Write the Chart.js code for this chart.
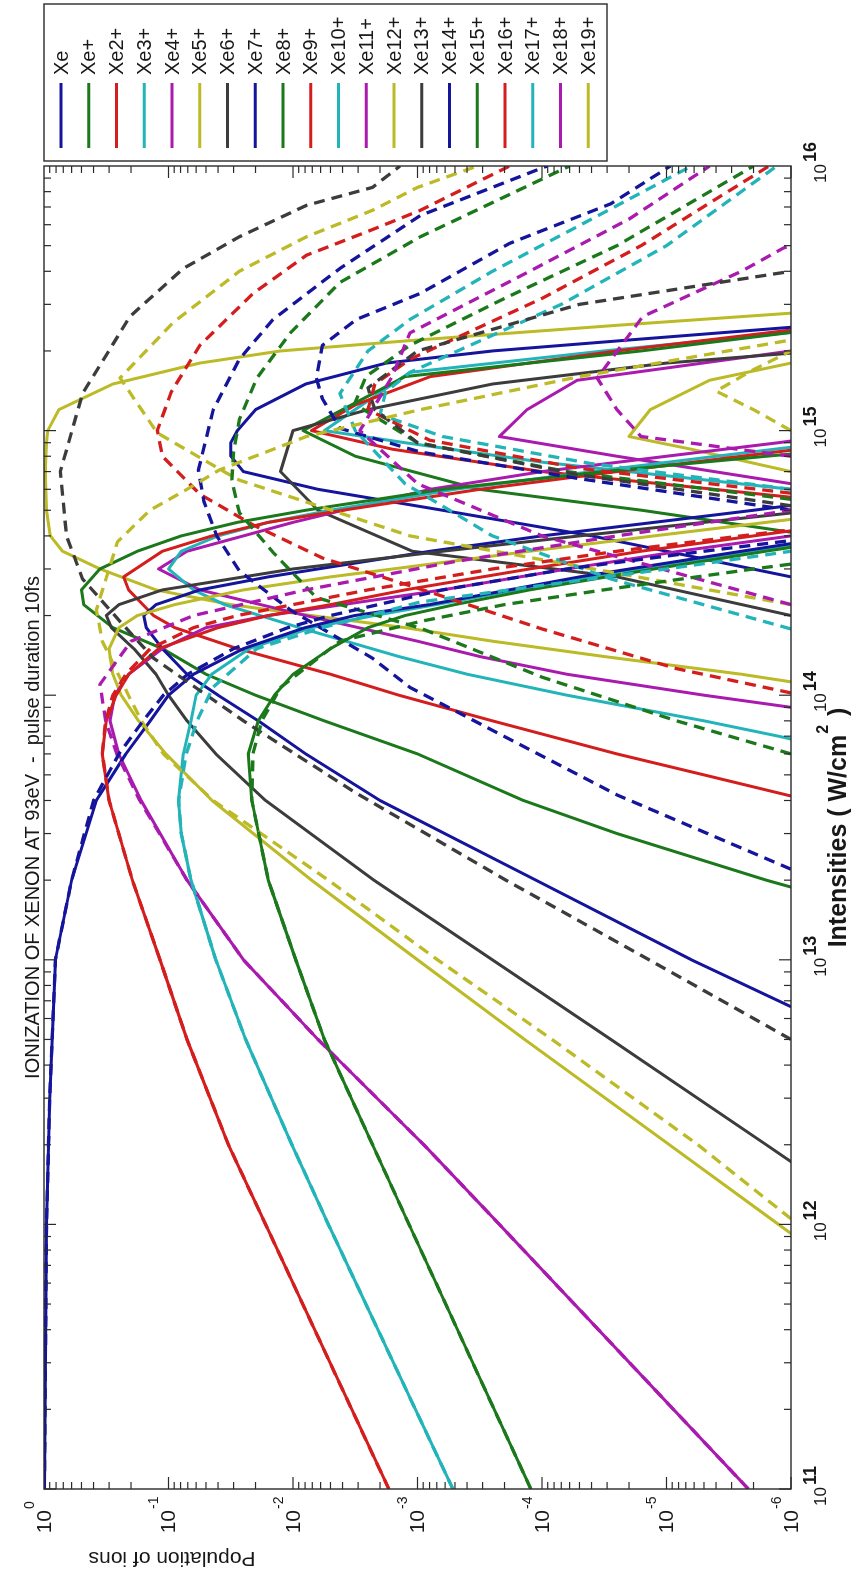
<!DOCTYPE html>
<html>
<head>
<meta charset="utf-8">
<script src="https://cdn.jsdelivr.net/npm/chart.js@4.4.1/dist/chart.umd.min.js"></script>
<style>
  html, body { margin: 0; padding: 0; background: #ffffff; overflow: hidden; }
  body { width: 866px; height: 1576px; position: relative; }
  /* the figure is laid out landscape and turned a quarter turn counter-clockwise */
  #frame {
    position: absolute; left: 0; top: 0;
    width: 1576px; height: 866px;
    transform-origin: 0 0;
    transform: translateY(1576px) rotate(-90deg);
  }
  canvas { display: block; }
</style>
</head>
<body>
<div id="frame"><canvas id="chart" width="1576" height="866"></canvas></div>
<script>
// Ion labels (legend order)
const ions = ['Xe','Xe+','Xe2+','Xe3+','Xe4+','Xe5+','Xe6+','Xe7+','Xe8+','Xe9+',
              'Xe10+','Xe11+','Xe12+','Xe13+','Xe14+','Xe15+','Xe16+','Xe17+','Xe18+','Xe19+'];

// Axis decades used for tick labels
const intensityDecades = [11, 12, 13, 14, 15, 16];
const populationDecades = [0, -1, -2, -3, -4, -5, -6];

// ---- Model A (solid lines): [intensity W/cm^2, population] ----
const xe_a   = [[1e11,0.993],[1e12,0.955],[3e12,0.9],[1e13,0.81],[2e13,0.6],[4e13,0.38],[6e13,0.22],[8e13,0.14],[1e14,0.1],[1.2e14,0.063],[1.5e14,0.025],[1.8e14,8e-3],[2e14,3.2e-3],[2.2e14,8e-4],[2.8e14,5e-5],[3.5e14,2.5e-6],[4e14,4e-7]];
const xe1_a  = [[1e11,1.23e-4],[1e12,1.17e-3],[5e12,5.6e-3],[1e13,9.5e-3],[2e13,0.0158],[4e13,0.0214],[6e13,0.0229],[8e13,0.019],[1e14,0.0141],[1.2e14,0.01],[1.5e14,5e-3],[1.8e14,2.5e-3],[2e14,1.26e-3],[2.2e14,5e-4],[2.5e14,1.26e-4],[3e14,1.26e-5],[3.5e14,1.6e-6],[4e14,2.5e-7]];
const xe2_a  = [[1e11,1.7e-3],[1e12,0.0166],[2e12,0.033],[5e12,0.071],[1e13,0.117],[2e13,0.195],[4e13,0.3],[6e13,0.34],[8e13,0.316],[1e14,0.263],[1.2e14,0.209],[1.5e14,0.12],[1.8e14,0.04],[2e14,0.0158],[2.2e14,5e-3],[2.5e14,1.26e-3],[3e14,1.26e-4],[3.5e14,1.6e-5],[4e14,2e-6],[4.5e14,3.2e-7]];
const xe3_a  = [[1e11,5.2e-4],[1e12,5.2e-3],[2e12,0.0102],[5e12,0.024],[1e13,0.0417],[2e13,0.066],[3e13,0.079],[4e13,0.083],[6e13,0.076],[8e13,0.066],[1e14,0.06],[1.2e14,0.045],[1.5e14,0.0224],[1.8e14,7.1e-3],[2e14,2.24e-3],[2.2e14,7.1e-4],[2.5e14,1.58e-4],[3e14,1.58e-5],[3.5e14,2e-6],[4e14,3.2e-7]];
const xe4_a  = [[1e11,2.2e-6],[1e12,2.2e-4],[2e12,8.9e-4],[5e12,6.3e-3],[1e13,0.025],[2e13,0.071],[4e13,0.166],[6e13,0.251],[8e13,0.295],[1e14,0.27],[1.2e14,0.209],[1.5e14,0.112],[1.8e14,0.05],[2e14,0.0158],[2.2e14,3.98e-3],[2.5e14,6.3e-4],[3e14,6.3e-5],[3.5e14,7.9e-6],[4e14,1e-6],[4.5e14,2e-7]];
const xe5_a  = [[8e11,6.6e-7],[1e12,1.26e-6],[2e12,9.5e-6],[5e12,1.38e-4],[1e13,1e-3],[2e13,7.1e-3],[4e13,0.0447],[6e13,0.105],[8e13,0.174],[1e14,0.24],[1.2e14,0.28],[1.5e14,0.3],[1.8e14,0.25],[2e14,0.178],[2.2e14,0.089],[2.5e14,0.025],[2.8e14,5e-3],[3e14,1.58e-3],[3.5e14,1.26e-4],[4e14,1.26e-5],[4.5e14,1.58e-6],[5e14,2.5e-7]];
const xe6_a  = [[1.6e12,7.9e-7],[2e12,1.58e-6],[5e12,2.8e-5],[1e13,2.5e-4],[2e13,2.24e-3],[4e13,0.0166],[6e13,0.0417],[8e13,0.071],[1e14,0.1],[1.2e14,0.126],[1.5e14,0.19],[1.8e14,0.288],[2e14,0.316],[2.2e14,0.25],[2.5e14,0.112],[2.8e14,0.025],[3e14,0.01],[3.5e14,6.3e-4],[4e14,5e-5],[4.5e14,5e-6],[5e14,6.3e-7]];
const xe7_a  = [[6e12,6.3e-7],[1e13,6.3e-6],[2e13,1.12e-4],[4e13,2e-3],[6e13,7.9e-3],[8e13,0.019],[1e14,0.04],[1.2e14,0.071],[1.5e14,0.112],[1.8e14,0.151],[2e14,0.158],[2.2e14,0.126],[2.5e14,0.056],[2.8e14,0.0158],[3e14,6.3e-3],[3.5e14,7.9e-4],[4e14,1e-4],[4.5e14,1.26e-5],[5e14,2e-6],[6e14,1e-7]];
const xe8_a  = [[1.8e13,7.1e-7],[2e13,1.58e-6],[3e13,2.5e-5],[4e13,1.41e-4],[6e13,1e-3],[8e13,5.6e-3],[1e14,0.02],[1.2e14,0.05],[1.5e14,0.112],[1.8e14,0.28],[2.2e14,0.48],[2.5e14,0.5],[3e14,0.355],[3.5e14,0.178],[4e14,0.079],[4.5e14,0.028],[5e14,7.9e-3],[6e14,6.3e-4],[7e14,3.2e-5],[8e14,1.58e-6],[9e14,1e-7]];
const xe9_a  = [[4e13,7.1e-7],[5e13,5e-6],[6e13,2.5e-5],[8e13,2.5e-4],[1e14,1.41e-3],[1.2e14,5e-3],[1.5e14,0.028],[1.8e14,0.089],[2e14,0.132],[2.5e14,0.209],[2.8e14,0.229],[3.5e14,0.112],[4e14,0.0447],[4.5e14,0.0158],[5e14,3.98e-3],[6e14,3.16e-4],[7e14,2.5e-5],[8e14,2.5e-6],[9e14,3.2e-7]];
const xe10_a = [[6.5e13,6.3e-7],[7e13,1.26e-6],[8e13,5e-6],[1e14,6.3e-5],[1.2e14,3.98e-4],[1.4e14,1.41e-3],[1.8e14,8.9e-3],[2.2e14,0.0355],[2.5e14,0.063],[3e14,0.1],[3.5e14,0.079],[4e14,0.04],[4.5e14,0.0158],[5e14,5e-3],[6e14,5e-4],[7e14,3.98e-5],[8e14,3.98e-6],[9e14,5e-7]];
const xe11_a = [[8.5e13,4.3e-7],[9e13,1e-6],[1e14,5e-6],[1.2e14,6.3e-5],[1.4e14,3.16e-4],[1.6e14,1e-3],[2e14,7.9e-3],[2.5e14,0.056],[3e14,0.12],[3.5e14,0.071],[4e14,0.025],[4.5e14,0.01],[5e14,3.98e-3],[6e14,7.9e-4],[7e14,1e-4],[8e14,1e-5],[9e14,1.26e-6],[1e15,2.5e-7]];
const xe12_a = [[1e14,2e-7],[1.2e14,2.5e-6],[1.4e14,3.16e-5],[1.6e14,2.5e-4],[1.8e14,1.26e-3],[2e14,7.1e-3],[2.2e14,0.0316],[2.5e14,0.126],[3e14,0.355],[3.5e14,0.71],[4e14,0.89],[5e14,0.955],[7e14,0.977],[9e14,0.955],[1e15,0.933],[1.2e15,0.76],[1.5e15,0.28],[1.8e15,0.056],[2e15,0.0126],[2.2e15,1e-3],[2.5e15,2.5e-5],[2.8e15,7.9e-7]];
const xe13_a = [[2e14,1e-6],[2.8e14,2.5e-5],[3.5e14,1.1e-3],[5e14,6.3e-3],[7e14,0.0126],[1e15,0.01],[1.2e15,2.5e-3],[1.5e15,2.5e-4],[1.8e15,1e-5],[2e15,6e-7]];
const xe14_a = [[2.8e14,1e-6],[3.5e14,1e-5],[4e14,3.98e-5],[5e14,6.3e-4],[6e14,6.3e-3],[7e14,0.025],[8e14,0.0316],[9e14,0.0316],[1e15,0.028],[1.2e15,0.02],[1.5e15,7.9e-3],[1.8e15,1.78e-3],[2e15,2.5e-4],[2.2e15,2e-5],[2.5e15,6.3e-7]];
const xe15_a = [[4e14,6.3e-7],[5e14,1.58e-5],[6e14,3.2e-4],[8e14,3.16e-3],[1e15,8.3e-3],[1.2e15,4e-3],[1.6e15,1.26e-3],[2e15,1.6e-5],[2.35e15,1e-6],[2.5e15,2e-7]];
const xe16_a = [[5.6e14,1e-6],[7e14,1e-4],[8.5e14,1.58e-3],[1e15,7.1e-3],[1.25e15,3.16e-3],[1.6e15,7.9e-4],[2e15,2.5e-5],[2.4e15,1e-6],[2.6e15,1e-7]];
const xe17_a = [[6e14,1e-6],[7.6e14,1e-4],[9e14,1.26e-3],[1e15,5.6e-3],[1.25e15,2.8e-3],[1.66e15,1.15e-3],[2e15,3.2e-5],[2.35e15,1e-6],[2.6e15,1e-7]];
const xe18_a = [[6.3e14,1e-6],[8e14,2.5e-5],[9.5e14,2.2e-4],[1.2e15,1.32e-4],[1.55e15,5.2e-5],[2e15,1e-6],[2.2e15,1e-7]];
const xe19_a = [[7e14,1e-6],[8.5e14,6.3e-6],[9.5e14,2e-5],[1.2e15,1.35e-5],[1.55e15,4.5e-6],[1.8e15,1e-6],[2e15,1e-7]];

// ---- Model B (dashed lines) ----
const xe_b   = [[1e11,0.993],[1e12,0.955],[3e12,0.9],[1e13,0.81],[2e13,0.6],[4e13,0.4],[6e13,0.25],[8e13,0.16],[1e14,0.11],[1.2e14,0.07],[1.5e14,0.03],[1.8e14,0.011],[2e14,5e-3],[2.5e14,6.3e-4],[3e14,6.3e-5],[3.5e14,5e-6],[4e14,5e-7]];
const xe1_b  = [[1e11,1.23e-4],[1e12,1.17e-3],[5e12,5.6e-3],[1e13,9.5e-3],[2e13,0.0158],[4e13,0.0214],[6e13,0.021],[8e13,0.0178],[1.07e14,0.0126],[1.6e14,4.2e-3],[1.9e14,9.5e-4],[2.2e14,2e-4],[2.5e14,3.2e-5],[3e14,2e-6],[3.5e14,1.6e-7]];
const xe2_b  = [[1e11,1.7e-3],[1e12,0.0166],[2e12,0.033],[5e12,0.071],[1e13,0.117],[2e13,0.195],[4e13,0.3],[6e13,0.34],[8e13,0.32],[1e14,0.28],[1.2e14,0.22],[1.5e14,0.14],[1.8e14,0.063],[2e14,0.028],[2.2e14,0.01],[2.5e14,2.5e-3],[3e14,2.5e-4],[3.5e14,2.5e-5],[4e14,2.5e-6],[4.5e14,3.2e-7]];
const xe3_b  = [[1e11,5.2e-4],[1e12,5.2e-3],[2e12,0.0102],[5e12,0.024],[1e13,0.0417],[2e13,0.066],[3e13,0.079],[4e13,0.083],[6e13,0.072],[8e13,0.059],[1.07e14,0.044],[1.5e14,0.0195],[1.8e14,5.8e-3],[2.25e14,9.5e-4],[2.6e14,1e-4],[3e14,1e-5],[3.5e14,1e-6],[4e14,1e-7]];
const xe4_b  = [[1e11,2.2e-6],[1e12,2.2e-4],[2e12,8.9e-4],[5e12,6.3e-3],[1e13,0.025],[2e13,0.071],[4e13,0.17],[6e13,0.26],[8e13,0.32],[1.1e14,0.355],[1.6e14,0.2],[2e14,0.063],[2.5e14,7.9e-3],[3.2e14,5e-4],[4e14,2.5e-5],[5e14,1e-6],[5.5e14,2e-7]];
const xe5_b  = [[1.05e12,1e-6],[2e12,5.6e-6],[5e12,8.3e-5],[1e13,6.9e-4],[2e13,5.2e-3],[4e13,0.0437],[6e13,0.11],[8e13,0.165],[1e14,0.21],[1.6e14,0.34],[2.1e14,0.38],[3.8e14,0.257],[5e14,0.141],[6e14,0.071],[7.1e14,0.039],[9.5e14,7.8e-3],[1.2e15,9.5e-4],[1.6e15,5e-5],[2.2e15,1e-6],[2.5e15,1e-7]];
const xe6_b  = [[5e12,1e-6],[1e13,1.38e-5],[2e13,1.95e-4],[4.3e13,3.2e-3],[8e13,0.025],[1.38e14,0.132],[1.9e14,0.245],[2.75e14,0.49],[4e14,0.66],[7e14,0.74],[1.38e15,0.49],[2.7e15,0.204],[4.1e15,0.076],[5.4e15,0.027],[7.1e15,7.8e-3],[8.3e15,2.3e-3],[1e16,1.38e-3]];
const xe7_b  = [[2.2e13,1e-6],[4.2e13,2.5e-5],[1.07e14,1.15e-3],[1.38e14,2.3e-3],[2.1e14,0.0105],[2.95e14,0.027],[4e14,0.041],[5.4e14,0.052],[7.1e14,0.0575],[1.2e15,0.0437],[1.86e15,0.027],[2.63e15,0.0145],[4.1e15,4.2e-3],[6.5e15,9.5e-4],[1e16,9.1e-5]];
const xe8_b  = [[6e13,1e-6],[8e13,8.3e-6],[1.17e14,1e-4],[1.78e14,9.1e-4],[2.34e14,6.5e-3],[3.47e14,0.0145],[4.9e14,0.027],[6.5e14,0.031],[8.3e14,0.03],[1.1e15,0.027],[1.58e15,0.0195],[2.34e15,0.0105],[3.63e15,4.2e-3],[5.4e15,9.5e-4],[1e16,6e-5]];
const xe9_b  = [[1.02e14,1e-6],[1.26e14,8.3e-6],[1.78e14,1e-4],[2.45e14,7.9e-4],[3.3e14,5.8e-3],[4.4e14,0.0209],[5.75e14,0.056],[8e14,0.112],[1e15,0.123],[1.4e15,0.095],[2.1e15,0.056],[3.3e15,0.0209],[4.6e15,7.8e-3],[5.75e15,2.3e-3],[6.8e15,9.5e-4],[1e16,1.82e-4]];
const xe10_b = [[1.78e14,1e-6],[2.75e14,2.8e-5],[4e14,2.5e-4],[6.3e14,1.26e-3],[1e15,3.16e-3],[1.38e15,4.2e-3],[2e15,2.5e-3],[2.63e15,1.15e-3],[4e15,2.5e-4],[6.3e15,4e-5],[1e16,6.3e-6]];
const xe11_b = [[2.2e14,1e-6],[4e14,1e-4],[6.3e14,1e-3],[1e15,2.9e-3],[1.6e15,1.6e-3],[2.34e15,1.15e-3],[4e15,1.26e-4],[6.3e15,2e-5],[1e16,4.5e-6]];
const xe12_b = [[2.2e14,1e-6],[4e14,1.15e-3],[6.5e14,0.027],[6.9e14,0.034],[9.8e14,0.123],[1.58e15,0.245],[2.57e15,0.091],[4e15,0.027],[5.4e15,7.8e-3],[6.8e15,2.3e-3],[8.3e15,1e-3],[1e16,3.3e-4]];
const xe13_b = [[5.2e14,1e-6],[6.8e14,5e-5],[9e14,1e-3],[1.2e15,2.2e-3],[1.45e15,2.5e-3],[2e15,1e-3],[3e15,5e-5],[4e15,1e-6],[4.5e15,1e-7]];
const xe14_b = [[5e14,1e-6],[6.6e14,5.2e-5],[8.3e14,9.5e-4],[1.02e15,4.2e-3],[1.32e15,5.8e-3],[1.58e15,6.5e-3],[2.1e15,5.8e-3],[2.63e15,3.1e-3],[3.3e15,9.5e-4],[5.1e15,1.82e-4],[7.2e15,2.8e-5],[1e16,9.3e-6]];
const xe15_b = [[5.5e14,1e-6],[7e14,6.3e-5],[9e14,1e-3],[1.26e15,3.2e-3],[1.6e15,2.6e-3],[2.1e15,1.15e-3],[3.16e15,2e-4],[5e15,2.5e-5],[1e16,2e-6]];
const xe16_b = [[5.8e14,1e-6],[7.2e14,5e-5],[9.2e14,8e-4],[1.2e15,2.5e-3],[1.5e15,2.2e-3],[1.86e15,1.15e-3],[3.16e15,1e-4],[5e15,1.6e-5],[1e16,1.5e-6]];
const xe17_b = [[6e14,1e-6],[7.5e14,4e-5],[9.5e14,6.3e-4],[1.15e15,2e-3],[1.4e15,1.8e-3],[1.66e15,1.15e-3],[3e15,7e-5],[5e15,1e-5],[1e16,1.3e-6]];
const xe18_b = [[8e14,1e-6],[9.5e14,1.6e-5],[1.2e15,2.5e-5],[1.58e15,3.6e-5],[2.7e15,1.55e-5],[4e15,2.5e-6],[4.9e15,1.15e-6],[5.5e15,5e-7]];
const xe19_b = [[1e15,1e-6],[1.2e15,2e-6],[1.41e15,4e-6],[1.7e15,2e-6],[2e15,1e-6],[2.2e15,2e-7]];

const modelA = [xe_a,xe1_a,xe2_a,xe3_a,xe4_a,xe5_a,xe6_a,xe7_a,xe8_a,xe9_a,xe10_a,xe11_a,xe12_a,xe13_a,xe14_a,xe15_a,xe16_a,xe17_a,xe18_a,xe19_a];
const modelB = [xe_b,xe1_b,xe2_b,xe3_b,xe4_b,xe5_b,xe6_b,xe7_b,xe8_b,xe9_b,xe10_b,xe11_b,xe12_b,xe13_b,xe14_b,xe15_b,xe16_b,xe17_b,xe18_b,xe19_b];

// seven-colour line cycle
const palette = ['#14149c', '#1b781b', '#d41e1e', '#22b4b8', '#aa1aae', '#bcba26', '#3c3c3c'];
const colorOf = i => palette[i % palette.length];

const FONT = "'Liberation Sans', Arial, Helvetica, sans-serif";
const INK = '#181818';

function toPoints(rows) { return rows.map(([x, y]) => ({ x, y })); }

const datasets = [];
modelA.forEach((rows, i) => datasets.push({
  label: ions[i], data: toPoints(rows), borderColor: colorOf(i), borderWidth: 3,
  pointRadius: 0, fill: false, tension: 0, clip: 0, borderJoinStyle: 'round', order: 2
}));
modelB.forEach((rows, i) => datasets.push({
  label: ions[i] + ' (b)', data: toPoints(rows), borderColor: colorOf(i), borderWidth: 3.3,
  borderDash: [11, 7], pointRadius: 0, fill: false, tension: 0, clip: 0, borderJoinStyle: 'round', order: 1
}));

function seg(ctx, x1, y1, x2, y2) { ctx.beginPath(); ctx.moveTo(x1, y1); ctx.lineTo(x2, y2); ctx.stroke(); }

// Axes box, inward log ticks, power-of-ten labels, titles and legend box
const figureDecor = {
  id: 'figureDecor',
  afterDatasetsDraw(chart) {
    const { ctx, chartArea: a } = chart;
    const xs = chart.scales.x, ys = chart.scales.y;
    ctx.save();
    ctx.strokeStyle = '#2a2a2a';
    ctx.lineWidth = 1.4;
    ctx.strokeRect(a.left, a.top, a.right - a.left, a.bottom - a.top);

    ctx.lineWidth = 1.2;
    // intensity ticks (bottom and top edges)
    for (let e = 11; e < 16; e++) {
      for (let m = 1; m <= 9; m++) {
        const px = xs.getPixelForValue(m * Math.pow(10, e));
        const len = m === 1 ? 12 : 7;
        seg(ctx, px, a.bottom, px, a.bottom - len);
        seg(ctx, px, a.top, px, a.top + len);
      }
    }
    // population ticks (left and right edges)
    for (let e = -6; e < 0; e++) {
      for (let m = 1; m <= 9; m++) {
        const py = ys.getPixelForValue(m * Math.pow(10, e));
        const len = m === 1 ? 12 : 7;
        seg(ctx, a.left, py, a.left + len, py);
        seg(ctx, a.right, py, a.right - len, py);
      }
    }

    ctx.fillStyle = INK;
    // population tick labels: 10 with a raised exponent
    populationDecades.forEach(k => {
      const py = ys.getPixelForValue(Math.pow(10, k));
      ctx.font = '21px ' + FONT;
      ctx.textAlign = 'right';
      ctx.textBaseline = 'middle';
      ctx.fillText('10', 66, py + 1);
      ctx.font = '14px ' + FONT;
      ctx.textAlign = 'left';
      ctx.fillText(String(k), 67, py - 14);
    });
    // intensity tick labels: 10 with a bold exponent
    intensityDecades.forEach(k => {
      const px = xs.getPixelForValue(Math.pow(10, k));
      ctx.textBaseline = 'middle';
      ctx.font = '17px ' + FONT;
      ctx.textAlign = 'right';
      ctx.fillText('10', px + 2, a.bottom + 30);
      ctx.font = 'bold 18px ' + FONT;
      ctx.textAlign = 'left';
      ctx.fillText(String(k), px + 4, a.bottom + 20);
    });

    // chart title
    ctx.font = '20px ' + FONT;
    ctx.textAlign = 'center';
    ctx.textBaseline = 'alphabetic';
    ctx.fillText('IONIZATION OF XENON AT 93eV  -  pulse duration 10fs', (a.left + a.right) / 2, a.top - 5);

    // intensity axis title with superscript
    const cx = (a.left + a.right) / 2;
    const base = 'Intensities ( W/cm', tail = ' )';
    ctx.font = 'bold 25px ' + FONT;
    const wBase = ctx.measureText(base).width;
    const wTail = ctx.measureText(tail).width;
    ctx.font = 'bold 16px ' + FONT;
    const wSup = ctx.measureText('2').width;
    const total = wBase + wSup + 3 + wTail;
    let tx = cx - total / 2;
    const ty = a.bottom + 48;
    ctx.textAlign = 'left';
    ctx.textBaseline = 'middle';
    ctx.font = 'bold 25px ' + FONT;
    ctx.fillText(base, tx, ty);
    ctx.font = 'bold 16px ' + FONT;
    ctx.fillText('2', tx + wBase + 1, ty - 15);
    ctx.font = 'bold 25px ' + FONT;
    ctx.fillText(tail, tx + wBase + wSup + 3, ty);

    // population axis title
    ctx.save();
    ctx.translate(18, 172);
    ctx.rotate(-Math.PI / 2);
    ctx.font = '21px ' + FONT;
    ctx.textAlign = 'center';
    ctx.textBaseline = 'middle';
    ctx.fillText('Population of ions', 0, 0);
    ctx.restore();

    // legend
    const lx = a.right + 5, ly = a.top, lw = 157, lh = 563;
    ctx.fillStyle = '#ffffff';
    ctx.fillRect(lx, ly, lw, lh);
    ctx.strokeStyle = '#2a2a2a';
    ctx.lineWidth = 1.4;
    ctx.strokeRect(lx, ly, lw, lh);
    ions.forEach((name, i) => {
      const y = ly + 17 + i * 27.75;
      ctx.strokeStyle = colorOf(i);
      ctx.lineWidth = 3.2;
      seg(ctx, lx + 13, y, lx + 78, y);
      ctx.fillStyle = INK;
      ctx.font = '20px ' + FONT;
      ctx.textAlign = 'left';
      ctx.textBaseline = 'middle';
      ctx.fillText(name, lx + 86, y + 1);
    });
    ctx.restore();
  }
};

new Chart(document.getElementById('chart'), {
  type: 'line',
  data: { datasets },
  options: {
    responsive: false,
    animation: false,
    events: [],
    layout: { padding: { top: 44, right: 166, left: 0, bottom: 0 } },
    plugins: { legend: { display: false }, tooltip: { enabled: false }, title: { display: false } },
    scales: {
      x: {
        type: 'logarithmic', min: 1e11, max: 1e16,
        grid: { display: false, drawTicks: false }, border: { display: false },
        ticks: { display: false },
        afterFit: s => { s.height = 75; }
      },
      y: {
        type: 'logarithmic', min: 1e-6, max: 1,
        grid: { display: false, drawTicks: false }, border: { display: false },
        ticks: { display: false },
        afterFit: s => { s.width = 87; }
      }
    }
  },
  plugins: [figureDecor]
});
</script>
</body>
</html>
